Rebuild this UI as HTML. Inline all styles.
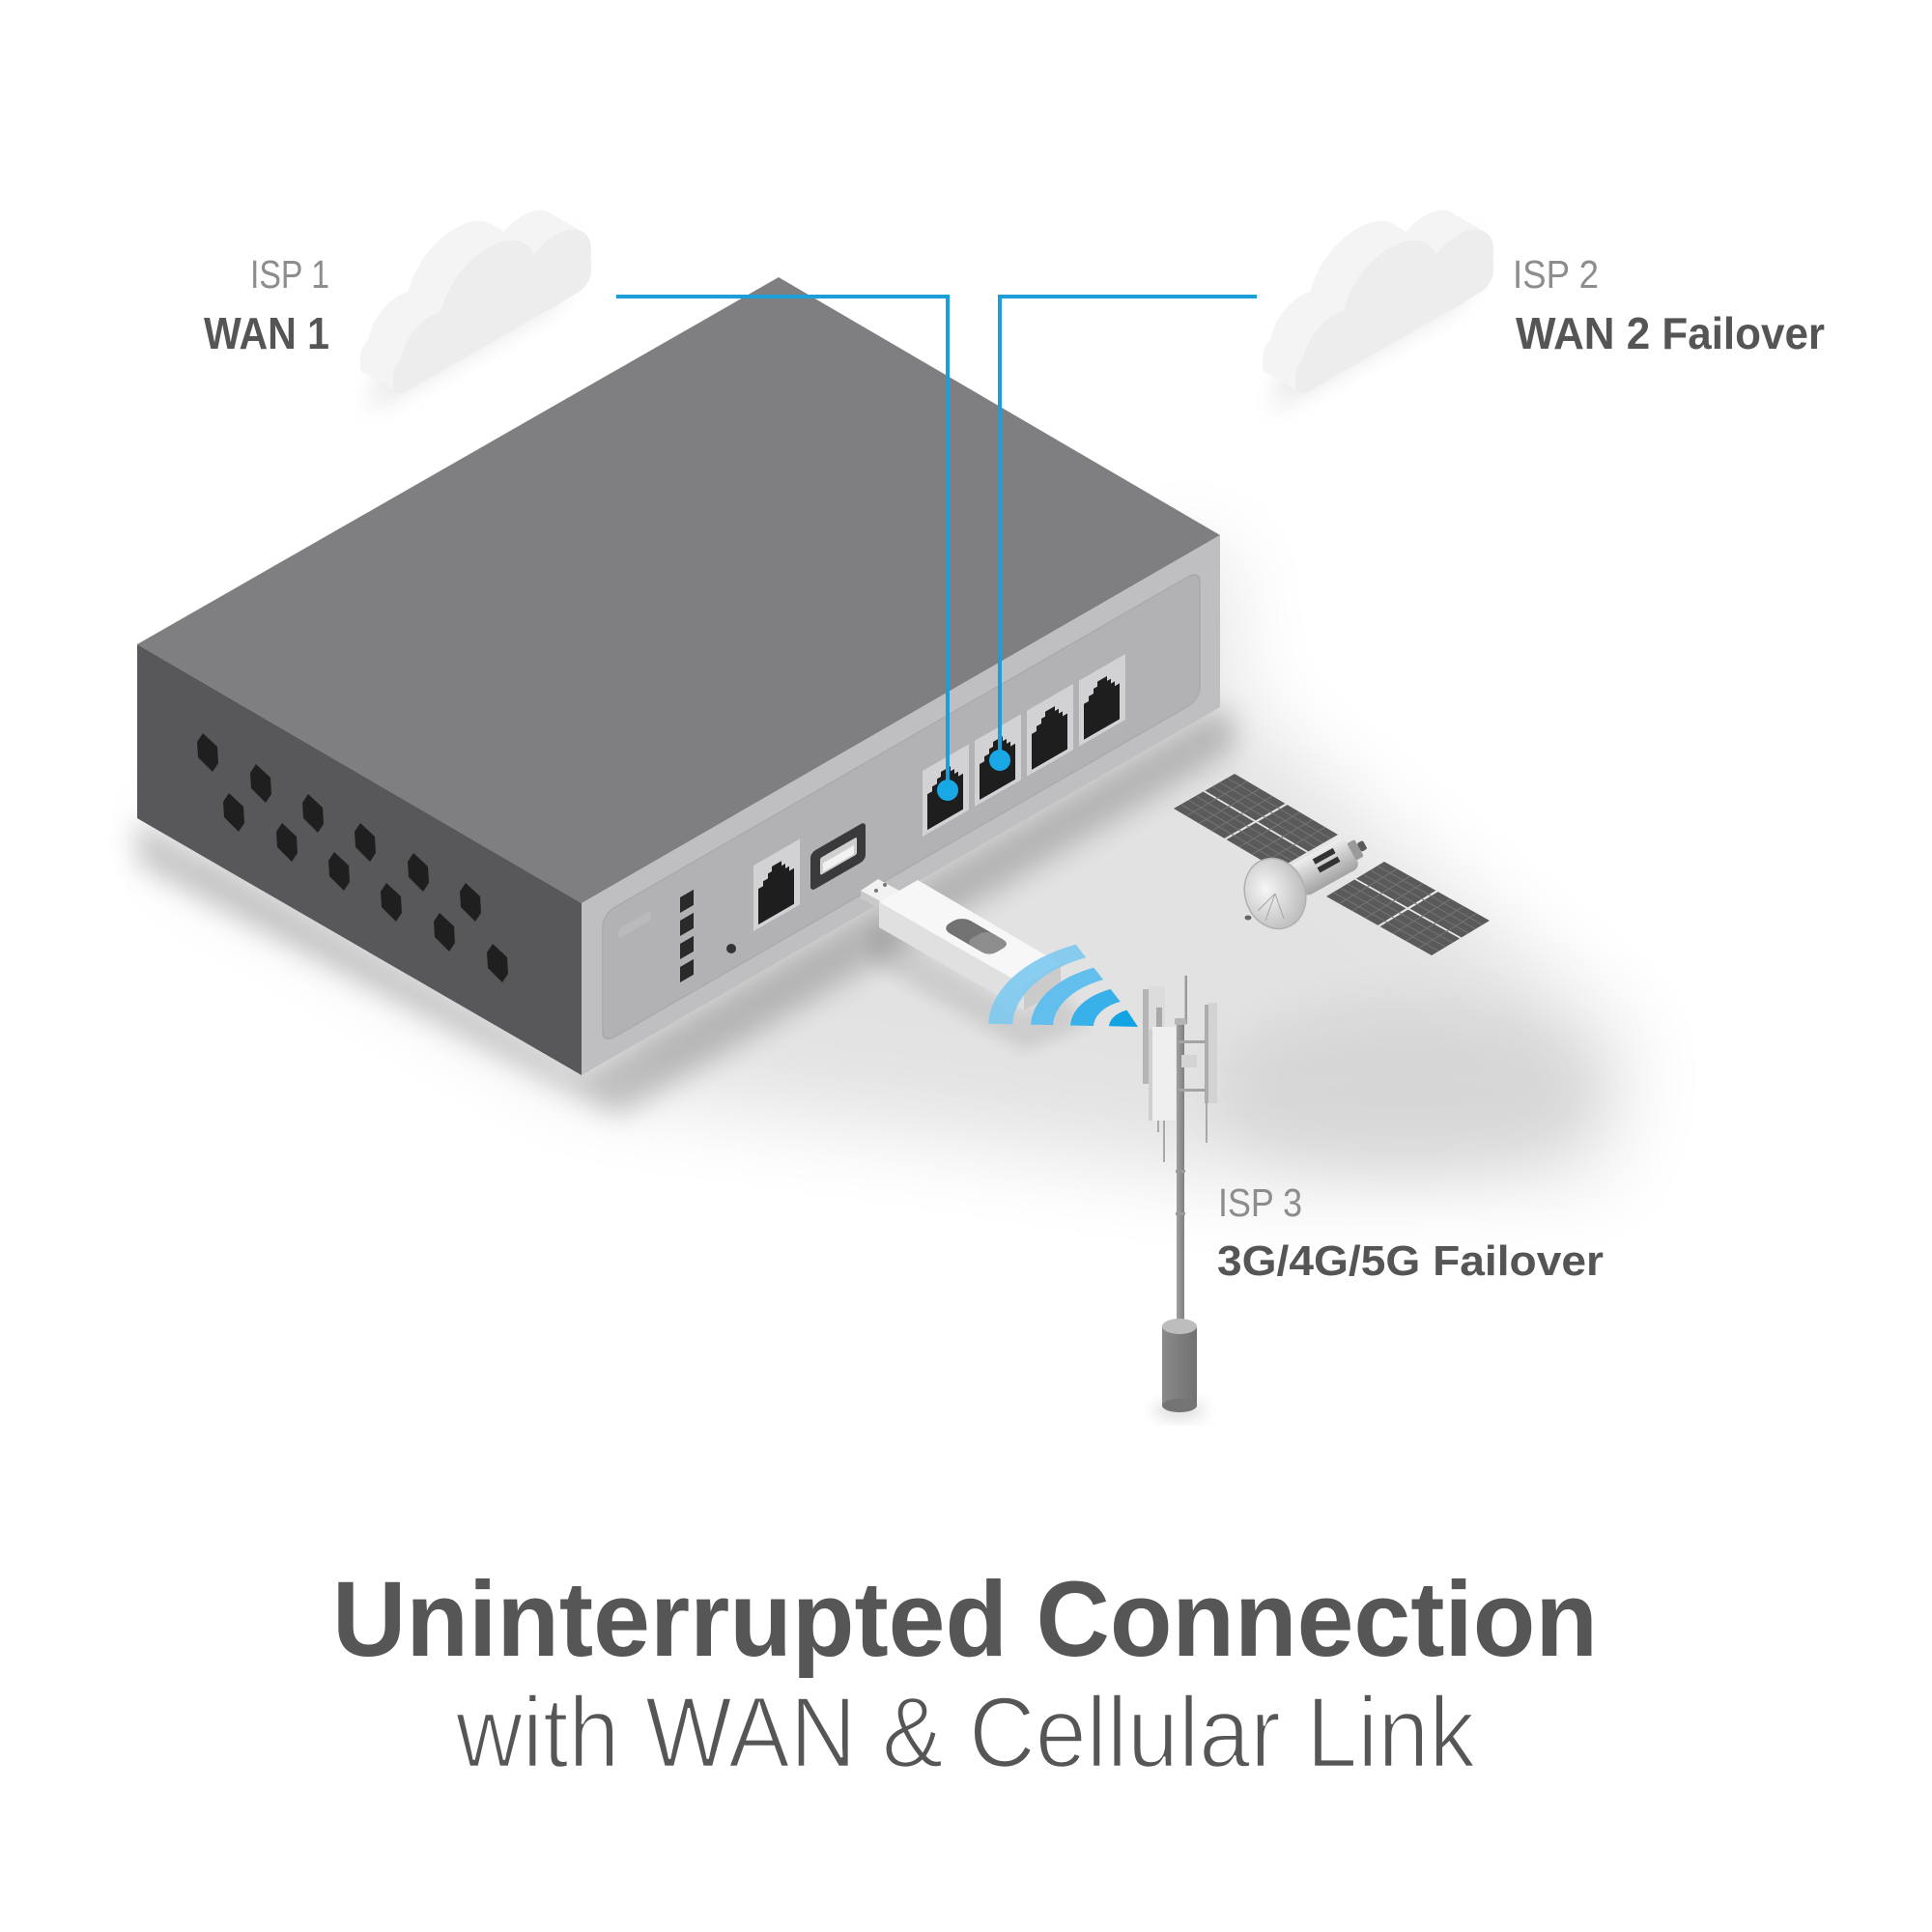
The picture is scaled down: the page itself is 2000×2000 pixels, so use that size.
<!DOCTYPE html>
<html><head><meta charset="utf-8">
<style>html,body{margin:0;padding:0;background:#fff}svg{display:block}</style>
</head><body>
<svg xmlns="http://www.w3.org/2000/svg" xmlns:xlink="http://www.w3.org/1999/xlink" width="2000" height="2000" viewBox="0 0 2000 2000" font-family="'Liberation Sans', Arial, sans-serif">
<defs>
  <filter id="b45" x="-50%" y="-50%" width="200%" height="200%"><feGaussianBlur stdDeviation="45"/></filter>
  <filter id="b30" x="-50%" y="-50%" width="200%" height="200%"><feGaussianBlur stdDeviation="30"/></filter>
  <filter id="b14" x="-50%" y="-50%" width="200%" height="200%"><feGaussianBlur stdDeviation="14"/></filter>
  <filter id="b8" x="-50%" y="-50%" width="200%" height="200%"><feGaussianBlur stdDeviation="8"/></filter>
  <g id="cl">
    <rect x="0" y="-38" width="205" height="38" rx="14"/>
    <circle cx="40" cy="-32" r="32"/>
    <circle cx="98" cy="-50" r="50"/>
    <circle cx="168" cy="-36" r="37"/>
  </g>
  <g id="rj">
    <rect x="0" y="0" width="48" height="68" fill="#d2d2d4"/>
    <path d="M5 64V27H10V22H15V17H19V12H29V17H33V22H37V27H42V64Z" fill="#1e1e1f"/>
  </g>
  <polygon id="hex" points="-5,-20 10,-6 11,11 5,20 -10,5 -11,-11" fill="#1f1f20"/>
  <linearGradient id="bodyg" x1="0" y1="0" x2="0" y2="1"><stop offset="0" stop-color="#eeeeee"/><stop offset="1" stop-color="#a2a2a2"/></linearGradient>
  <radialGradient id="dishg" cx="0.38" cy="0.4" r="0.7"><stop offset="0" stop-color="#f6f6f6"/><stop offset="1" stop-color="#b8b8b8"/></radialGradient>
  <linearGradient id="poleg" x1="0" y1="0" x2="1" y2="0"><stop offset="0" stop-color="#a0a0a0"/><stop offset="1" stop-color="#808080"/></linearGradient>
  <linearGradient id="baseg" x1="0" y1="0" x2="1" y2="0"><stop offset="0" stop-color="#8a8a8a"/><stop offset="1" stop-color="#717171"/></linearGradient>
</defs>
<rect width="2000" height="2000" fill="#fff"/>

<!-- shadows -->
<polygon points="150,860 600,1125 1000,1180 1300,1225 1660,1220 1690,1080 1450,880 1270,720 1270,560" fill="#000" opacity="0.11" filter="url(#b45)"/>
<ellipse cx="1460" cy="1130" rx="200" ry="90" fill="#000" opacity="0.05" filter="url(#b30)"/>
<polygon points="142,847 602,1113 1263,731 1278,748 1278,775 640,1155 142,895" fill="#000" opacity="0.2" filter="url(#b14)"/>
<polygon points="905,955 1060,1048 1100,1028 1125,1062 1060,1088 900,995" fill="#000" opacity="0.09" filter="url(#b8)"/>

<!-- clouds -->
<g transform="matrix(1,-0.5764,0,1,407,413)">
  <use xlink:href="#cl" href="#cl" fill="#000" opacity="0.09" filter="url(#b14)" transform="translate(-20,0)"/>
  <use xlink:href="#cl" href="#cl" fill="#f4f4f4" transform="translate(-34,-39.6)"/>
  <use xlink:href="#cl" href="#cl" fill="#f4f4f4" transform="translate(-25.5,-29.7)"/>
  <use xlink:href="#cl" href="#cl" fill="#f4f4f4" transform="translate(-17,-19.8)"/>
  <use xlink:href="#cl" href="#cl" fill="#f4f4f4" transform="translate(-8.5,-9.9)"/>
  <use xlink:href="#cl" href="#cl" fill="#ededed"/>
</g>
<g transform="matrix(1,-0.5764,0,1,1341,413)">
  <use xlink:href="#cl" href="#cl" fill="#000" opacity="0.09" filter="url(#b14)" transform="translate(-20,0)"/>
  <use xlink:href="#cl" href="#cl" fill="#f4f4f4" transform="translate(-34,-39.6)"/>
  <use xlink:href="#cl" href="#cl" fill="#f4f4f4" transform="translate(-25.5,-29.7)"/>
  <use xlink:href="#cl" href="#cl" fill="#f4f4f4" transform="translate(-17,-19.8)"/>
  <use xlink:href="#cl" href="#cl" fill="#f4f4f4" transform="translate(-8.5,-9.9)"/>
  <use xlink:href="#cl" href="#cl" fill="#ededed"/>
</g>

<!-- router box -->
<polygon points="806,287 1263,554 602,935 142,667" fill="#7f7f81"/>
<polygon points="142,667 602,935 602,1113 142,847" fill="#58585a"/>
<g transform="matrix(1,-0.5764,0,1,602,935)">
  <rect x="0" y="0" width="661" height="178" fill="#bfbfc1"/>
  <rect x="22" y="24" width="618" height="134" rx="12" fill="#b2b2b4" stroke="#a9a9ab" stroke-width="1.5"/>
</g>

<!-- hex vents -->
<use xlink:href="#hex" href="#hex" x="215" y="779"/>
<use xlink:href="#hex" href="#hex" x="270" y="811"/>
<use xlink:href="#hex" href="#hex" x="324" y="842"/>
<use xlink:href="#hex" href="#hex" x="378" y="872"/>
<use xlink:href="#hex" href="#hex" x="433" y="903"/>
<use xlink:href="#hex" href="#hex" x="487" y="934"/>
<use xlink:href="#hex" href="#hex" x="242" y="841"/>
<use xlink:href="#hex" href="#hex" x="297" y="872"/>
<use xlink:href="#hex" href="#hex" x="351" y="902"/>
<use xlink:href="#hex" href="#hex" x="405" y="934"/>
<use xlink:href="#hex" href="#hex" x="460" y="965"/>
<use xlink:href="#hex" href="#hex" x="515" y="997"/>

<!-- front panel items -->
<g transform="matrix(1,-0.5764,0,1,704,937)"><rect x="0" y="-8" width="14" height="16" fill="#2a2a2b"/></g>
<g transform="matrix(1,-0.5764,0,1,704,961)"><rect x="0" y="-8" width="14" height="16" fill="#2a2a2b"/></g>
<g transform="matrix(1,-0.5764,0,1,704,985)"><rect x="0" y="-8" width="14" height="16" fill="#2a2a2b"/></g>
<g transform="matrix(1,-0.5764,0,1,704,1009)"><rect x="0" y="-8" width="14" height="16" fill="#2a2a2b"/></g>
<circle cx="757" cy="982" r="5" fill="#333"/>
<g transform="matrix(1,-0.5764,0,1,640,968)" opacity="0.35"><rect x="0" y="-6" width="34" height="10" rx="3" fill="#c9c9cb"/></g>

<use xlink:href="#rj" href="#rj" transform="matrix(1,-0.5764,0,1,780,896)"/>
<g transform="matrix(1,-0.5764,0,1,839,883)">
  <rect x="0" y="0" width="57" height="40" rx="5" fill="#3a3a3c"/>
  <rect x="10" y="11" width="38" height="18" rx="2" fill="#cfcfcf"/>
  <rect x="13" y="18" width="32" height="9" fill="#f2f2f2"/>
</g>
<use xlink:href="#rj" href="#rj" transform="matrix(1,-0.5764,0,1,955,798)"/>
<use xlink:href="#rj" href="#rj" transform="matrix(1,-0.5764,0,1,1009,766.9)"/>
<use xlink:href="#rj" href="#rj" transform="matrix(1,-0.5764,0,1,1063,735.7)"/>
<use xlink:href="#rj" href="#rj" transform="matrix(1,-0.5764,0,1,1117,704.6)"/>

<!-- blue connector lines -->
<polyline points="638,307 981,307 981,818" fill="none" stroke="#1a9fd9" stroke-width="4"/>
<polyline points="1301,307 1035,307 1035,787" fill="none" stroke="#1a9fd9" stroke-width="4"/>
<circle cx="981" cy="818" r="11" fill="#19a8e6"/>
<circle cx="1035" cy="787" r="11" fill="#19a8e6"/>

<!-- USB stick -->
<polygon points="891,922 909,910 931,922 913,934" fill="#f2f2f2"/>
<polygon points="891,922 913,934 913,942 891,930" fill="#c9c9c9"/>
<circle cx="907" cy="922" r="2" fill="#777"/>
<circle cx="916" cy="916" r="2" fill="#777"/>
<polygon points="910,934 950,911 1098,998 1060,1020" fill="#f7f7f7"/>
<polygon points="910,934 1060,1020 1060,1046 910,960" fill="#e0e0e0"/>
<polygon points="1060,1020 1098,998 1098,1024 1060,1046" fill="#cbcbcb"/>
<g transform="matrix(1,0.583,1,-0.583,910,934)">
  <rect x="55" y="9" width="50" height="22" rx="9" fill="#727272"/>
  <rect x="80" y="9" width="25" height="22" rx="7" fill="#8d8d8d"/>
</g>

<!-- wifi arcs -->
<path d="M1023.1,1059.7 A157,94.2 0 0 1 1113.6,977.6 L1124.2,991.2 A132,79.2 0 0 0 1048.1,1060.2 Z" fill="#7fcaf0" opacity="0.92"/>
<path d="M1067.1,1060.6 A113,67.8 0 0 1 1132.2,1001.6 L1142.0,1014.1 A90,54 0 0 0 1090.1,1061.1 Z" fill="#5cbdee" opacity="0.95"/>
<path d="M1108.0,1061.5 A72,43.2 0 0 1 1149.6,1023.9 L1159.7,1036.9 A48,28.8 0 0 0 1132.0,1062.0 Z" fill="#38b0ea"/>
<path d="M1178,1063 L1148.0,1062.3 A32,19.2 0 0 1 1166.5,1045.6 Z" fill="#12a3e4"/>

<!-- satellite -->
<g transform="matrix(1.07,0.63,0.63,-0.36,1215,837)">
  <rect x="0" y="0" width="49" height="48.5" fill="#5a5a5a"/>
  <rect x="51" y="0" width="49" height="48.5" fill="#5a5a5a"/>
  <rect x="0" y="51.5" width="49" height="48.5" fill="#5a5a5a"/>
  <rect x="51" y="51.5" width="49" height="48.5" fill="#5a5a5a"/>
  <path d="M12.25 0V100M24.5 0V100M36.75 0V100M63.25 0V100M75.5 0V100M87.75 0V100M0 12.1H100M0 24.25H100M0 36.4H100M0 63.6H100M0 75.75H100M0 87.9H100" stroke="#747474" stroke-width="1" vector-effect="non-scaling-stroke"/>
</g>
<g transform="matrix(1.09,0.61,0.60,-0.36,1373,928)">
  <rect x="0" y="0" width="49" height="48.5" fill="#5a5a5a"/>
  <rect x="51" y="0" width="49" height="48.5" fill="#5a5a5a"/>
  <rect x="0" y="51.5" width="49" height="48.5" fill="#5a5a5a"/>
  <rect x="51" y="51.5" width="49" height="48.5" fill="#5a5a5a"/>
  <path d="M12.25 0V100M24.5 0V100M36.75 0V100M63.25 0V100M75.5 0V100M87.75 0V100M0 12.1H100M0 24.25H100M0 36.4H100M0 63.6H100M0 75.75H100M0 87.9H100" stroke="#747474" stroke-width="1" vector-effect="non-scaling-stroke"/>
</g>
<g transform="translate(1372,897) rotate(-29)">
  <rect x="-34" y="-18" width="66" height="36" rx="8" fill="url(#bodyg)"/>
  <rect x="-8" y="-13" width="24" height="6" fill="#333"/>
  <rect x="-8" y="-3" width="24" height="6" fill="#333"/>
  <rect x="31" y="-10" width="9" height="20" rx="2" fill="#9a9a9a"/>
  <rect x="40" y="-5" width="7" height="10" rx="2" fill="#5a5a5a"/>
</g>
<ellipse cx="1320" cy="925" rx="31" ry="37" transform="rotate(-20 1320 925)" fill="url(#dishg)" stroke="#b0b0b0" stroke-width="1.5"/>
<path d="M1320 925L1302 943M1320 925L1310 953M1320 925L1329 951" stroke="#a5a5a5" stroke-width="1"/>
<ellipse cx="1292" cy="950" rx="3.5" ry="2.5" fill="#666"/>

<!-- cell tower -->
<ellipse cx="1221" cy="1460" rx="28" ry="8" fill="#000" opacity="0.15" filter="url(#b8)"/>
<rect x="1226.5" y="1010" width="2.5" height="50" fill="#9a9a9a"/>
<rect x="1183" y="1024" width="6" height="98" fill="#b5b5b5"/>
<rect x="1189" y="1021" width="17" height="101" fill="#dcdcdc"/>
<rect x="1197" y="1043" width="6" height="20" fill="#a8a8a8"/>
<rect x="1247" y="1040" width="4" height="102" fill="#adadad"/>
<rect x="1251" y="1038" width="9" height="104" fill="#d3d3d3"/>
<line x1="1249" y1="1142" x2="1249" y2="1183" stroke="#a9a9a9" stroke-width="2"/>
<rect x="1218" y="1057" width="8" height="316" fill="url(#poleg)"/>
<rect x="1216" y="1054" width="12" height="7" rx="2" fill="#b5b5b5"/>
<rect x="1217" y="1211" width="10" height="3" fill="#9a9a9a"/>
<rect x="1217" y="1255" width="10" height="3" fill="#9a9a9a"/>
<rect x="1220" y="1077" width="28" height="3" fill="#a3a3a3"/>
<rect x="1220" y="1127" width="28" height="3" fill="#a3a3a3"/>
<rect x="1223" y="1092" width="16" height="13" fill="#d4d4d4"/>
<rect x="1189" y="1066" width="4" height="94" fill="#cfcfcf"/>
<rect x="1193" y="1063" width="24" height="97" fill="#efefef"/>
<line x1="1205" y1="1160" x2="1205" y2="1203" stroke="#a9a9a9" stroke-width="2"/>
<line x1="1199" y1="1160" x2="1199" y2="1172" stroke="#a9a9a9" stroke-width="2"/>
<rect x="1203" y="1373" width="36" height="82" fill="url(#baseg)"/>
<ellipse cx="1221" cy="1455" rx="18" ry="7" fill="#747474"/>
<ellipse cx="1221" cy="1373" rx="18" ry="8" fill="#bdbdbd"/>

<!-- labels -->
<text x="259" y="298" font-size="41" fill="#8d8d8d" textLength="82" lengthAdjust="spacingAndGlyphs">ISP 1</text>
<text x="211" y="361" font-size="46" font-weight="bold" fill="#555" textLength="130" lengthAdjust="spacingAndGlyphs">WAN 1</text>
<text x="1566" y="298" font-size="41" fill="#8d8d8d" textLength="89" lengthAdjust="spacingAndGlyphs">ISP 2</text>
<text x="1569" y="361" font-size="46" font-weight="bold" fill="#555" textLength="320" lengthAdjust="spacingAndGlyphs">WAN 2 Failover</text>
<text x="1261" y="1259" font-size="41" fill="#8d8d8d" textLength="87" lengthAdjust="spacingAndGlyphs">ISP 3</text>
<text x="1260" y="1320" font-size="44" font-weight="bold" fill="#555" textLength="400" lengthAdjust="spacingAndGlyphs">3G/4G/5G Failover</text>

<text x="344" y="1714" font-size="110" font-weight="bold" fill="#565656" textLength="1310" lengthAdjust="spacingAndGlyphs">Uninterrupted Connection</text>
<text x="472" y="1829" font-size="104" fill="#565656" stroke="#fff" stroke-width="2.5" paint-order="fill" textLength="1055" lengthAdjust="spacingAndGlyphs">with WAN &amp; Cellular Link</text>
</svg>
</body></html>
